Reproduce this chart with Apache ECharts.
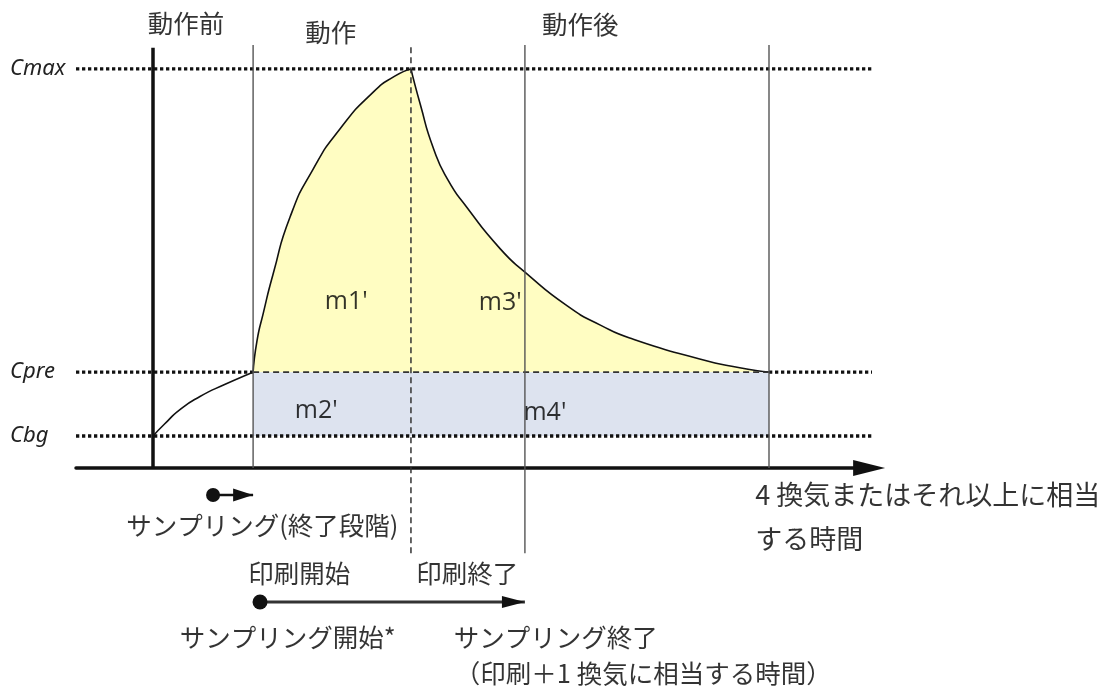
<!DOCTYPE html>
<html>
<head>
<meta charset="utf-8">
<script src="https://cdn.jsdelivr.net/npm/echarts@6/dist/echarts.min.js"></script>
<style>
  html, body { margin: 0; padding: 0; background: #fff; }
  #main { width: 1107px; height: 688px; }
</style>
</head>
<body>
<div id="main"></div>
<script>
// 濃度レベル
const levelNames = ['Cbg', 'Cpre', 'Cmax']
const levelValues = [8, 24, 100]

// 時刻（任意単位）
const printStart = 13
const printEnd = 33.5
const sampleEnd = 48.3
const endTime = 80

// 動作前の曲線
const preT = [0, 1.5, 3.5, 6.1, 9.3, 13]
const preC = [8, 11.0, 14.6, 17.9, 20.9, 24]
// 動作中（上昇）
const riseT = [13, 13.5, 14.3, 15.6, 17.8, 20.8, 24.3, 28.6, 31.4, 33.5]
const riseC = [24, 31.8, 38.6, 48.6, 62.9, 74.9, 85.0, 94.2, 98.2, 100]
// 動作後（減衰）
const decayT = [33.5, 34.7, 36.4, 38.3, 40.8, 45.1, 48.3, 53.8, 58.1, 62.3, 71.0, 76.2, 80]
const decayC = [100, 91.2, 80.2, 72.2, 65.2, 54.9, 49.1, 40.6, 35.8, 32.3, 27.3, 25.1, 24]

// 面積ラベル
const areaNames = ["m1'", "m2'", "m3'", "m4'"]
const areaT = [25.1, 21.2, 45.1, 50.9]
const areaC = [41.6, 14.2, 41.4, 13.9]

// 段階ラベル
const phaseNames = ['動作前', '動作', '動作後']
const phaseT = [4.3, 23.1, 55.5]
const phaseC = [111.5, 109.3, 111.3]

const zip = (xs, ys) => xs.map((x, i) => [x, ys[i]])

const X_MIN = -10
const X_MAX = 93
const LINE_END = 94.2
const TOP = 106
const BELOW = -21.4

const jp = { fontFamily: "'Noto Sans CJK JP', sans-serif", fontSize: 25.5, color: '#000' }
const dotted = { color: '#111', width: 3.3, type: [3.3, 2.7] }
const thin = { color: '#555', width: 1.4 }

function seg (pts, style, z) {
    return {
        type: 'line', data: pts, symbol: 'none', clip: false, silent: true,
        lineStyle: style, z: z || 2
    }
}

function curve (pts) {
    return {
        type: 'line', data: pts, smooth: 0.6, symbol: 'none',
        clip: false, silent: true, lineStyle: { color: '#111', width: 1.6 }
    }
}

const [cbg, cpre, cmax] = levelValues

const notes = []
areaNames.forEach((t, i) => notes.push({
    value: [areaT[i], areaC[i]],
    label: { formatter: t, fontFamily: "'Open Sans', sans-serif", fontSize: 25, color: '#000' }
}))
phaseNames.forEach((t, i) => notes.push({
    value: [phaseT[i], phaseC[i]], label: Object.assign({ formatter: t }, jp)
}))
const left = { position: 'right', distance: 0 }
notes.push({ value: [14.2, -14.3], label: Object.assign({ formatter: 'サンプリング(終了段階)' }, jp) })
notes.push({ value: [19.0, -26.3], label: Object.assign({ formatter: '印刷開始' }, jp) })
notes.push({ value: [40.8, -26.3], label: Object.assign({ formatter: '印刷終了' }, jp) })
notes.push({ value: [17.5, -42.4], label: Object.assign({ formatter: 'サンプリング開始*' }, jp) })
notes.push({ value: [52.3, -42.4], label: Object.assign({ formatter: 'サンプリング終了' }, jp) })
notes.push({ value: [39.2, -51.4], label: Object.assign({ formatter: '（印刷＋1 換気に相当する時間）' }, jp, left) })
notes.push({ value: [78.2, -6.8], label: Object.assign({ formatter: '4 換気またはそれ以上に相当' }, jp, left, { fontSize: 27 }) })
notes.push({ value: [78.2, -17.8], label: Object.assign({ formatter: 'する時間' }, jp, left, { fontSize: 27 }) })

const arrowHead = 'path://M0,0L10,5L0,10Z'

const option = {
    animation: false,
    backgroundColor: '#fff',
    grid: { left: 76, right: 237.9, top: 45, bottom: 12.6 },
    xAxis: {
        type: 'value', min: X_MIN, max: X_MAX,
        axisLine: {
            show: true, onZero: true,
            symbol: ['none', 'triangle'], symbolSize: [16, 32],
            lineStyle: { color: '#111', width: 3.5 }
        },
        axisTick: { show: false }, axisLabel: { show: false }, splitLine: { show: false }
    },
    yAxis: {
        type: 'value', min: -52, max: TOP,
        axisLine: { show: false, onZero: false },
        axisTick: { show: false },
        splitLine: { show: false },
        axisLabel: {
            show: true, customValues: levelValues, align: 'left', margin: 66,
            formatter: v => levelNames[levelValues.indexOf(v)],
            fontFamily: "'Noto Sans', sans-serif",
            fontStyle: 'italic', fontSize: 22, color: '#222'
        }
    },
    series: [
        // 黄色の面 m1', m3'
        Object.assign(curve(zip(riseT, riseC)), { areaStyle: { color: '#FFFDC2', opacity: 1, origin: cpre }, z: 2 }),
        Object.assign(curve(zip(decayT, decayC)), { areaStyle: { color: '#FFFDC2', opacity: 1, origin: cpre }, z: 2 }),
        // 青い面 m2', m4'
        {
            type: 'line', data: [[printStart, cpre], [endTime, cpre]], symbol: 'none', clip: false, silent: true,
            lineStyle: { color: '#333', width: 1.6, type: [6, 4] },
            areaStyle: { color: '#DDE3EF', opacity: 1, origin: cbg }, z: 3
        },
        Object.assign(curve(zip(preT, preC)), { z: 3 }),
        // 点線レベル
        seg([[X_MIN, cmax], [LINE_END, cmax]], dotted, 4),
        seg([[X_MIN, cbg], [LINE_END, cbg]], dotted, 4),
        seg([[X_MIN, cpre], [printStart, cpre]], dotted, 4),
        seg([[endTime, cpre], [LINE_END, cpre]], dotted, 4),
        // 縦線
        seg([[0, 0], [0, 105.3]], { color: '#111', width: 3.5 }, 5),
        seg([[printStart, 0], [printStart, TOP]], thin, 5),
        seg([[printEnd, BELOW], [printEnd, TOP]], { color: '#333', width: 1.5, type: [6, 4] }, 5),
        seg([[sampleEnd, BELOW], [sampleEnd, TOP]], thin, 5),
        seg([[endTime, 0], [endTime, TOP]], thin, 5),
        // サンプリング矢印
        {
            type: 'line', clip: false, silent: true, z: 6,
            lineStyle: { color: '#111', width: 2.5 }, itemStyle: { color: '#111' },
            data: [
                { value: [7.8, -6.8], symbol: 'circle', symbolSize: 14 },
                { value: [printStart, -6.8], symbol: arrowHead, symbolSize: [20, 13], symbolOffset: [-10, 0] }
            ]
        },
        {
            type: 'line', clip: false, silent: true, z: 6,
            lineStyle: { color: '#333', width: 3 }, itemStyle: { color: '#111' },
            data: [
                { value: [13.9, -33.6], symbol: 'circle', symbolSize: 15 },
                { value: [sampleEnd, -33.6], symbol: arrowHead, symbolSize: [23, 12], symbolOffset: [-11.5, 0] }
            ]
        },
        // 文字
        {
            type: 'scatter', clip: false, silent: true, z: 7, symbolSize: 0,
            label: { show: true, position: 'inside' },
            data: notes
        }
    ]
}

const chart = echarts.init(document.getElementById('main'))
chart.setOption(option)
</script>
</body>
</html>
